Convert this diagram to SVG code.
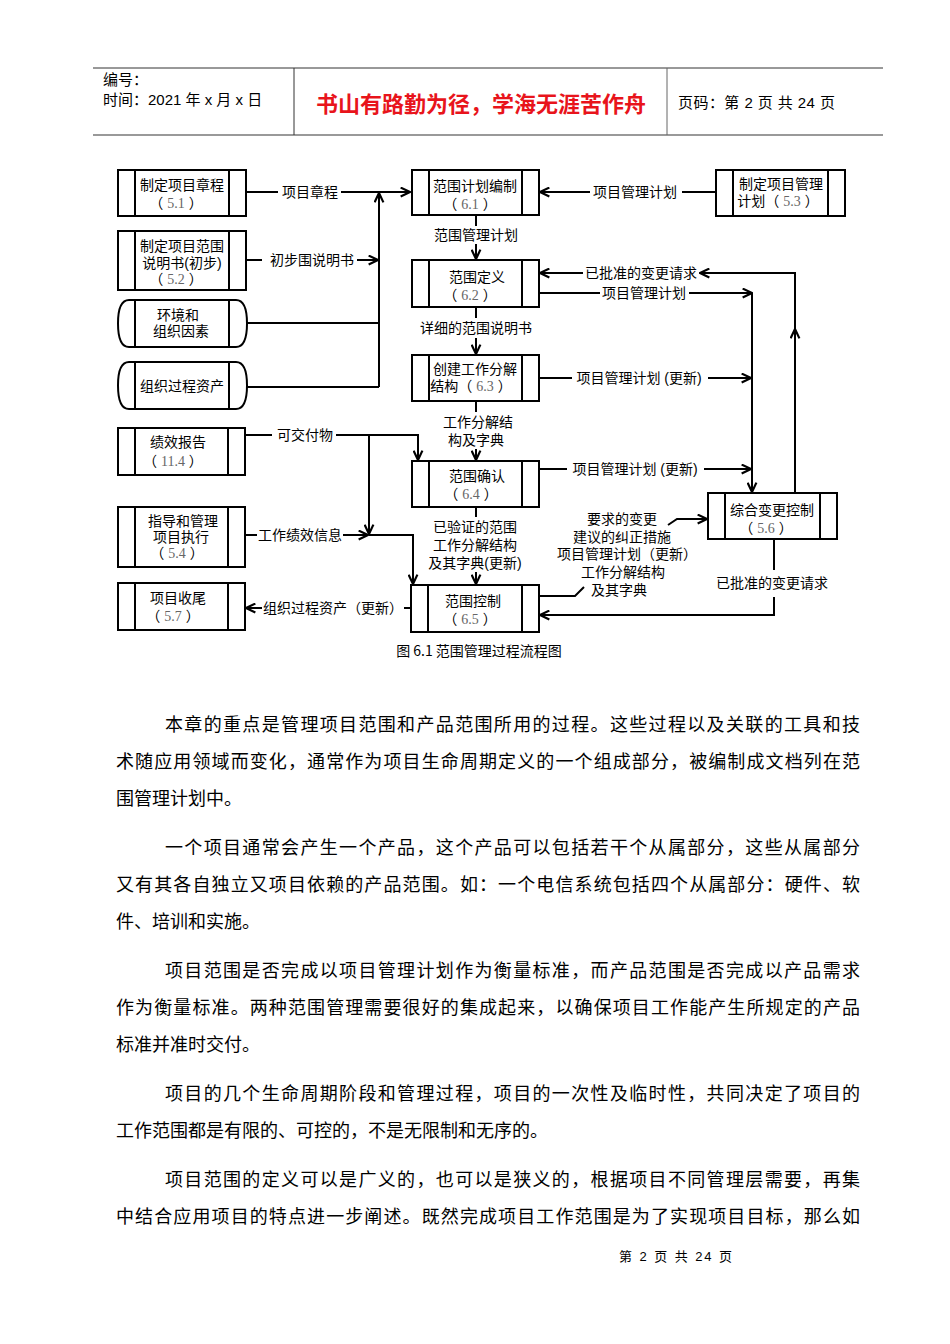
<svg xmlns="http://www.w3.org/2000/svg" width="950" height="1344" viewBox="0 0 950 1344">
<style>
.t{font-family:"Liberation Sans","Noto Sans CJK SC",sans-serif;font-size:14px;fill:#000;text-anchor:middle}
.n{font-family:"Liberation Serif",serif;fill:#666}
.b{fill:#fff;stroke:#000;stroke-width:2}
.il{stroke:#000;stroke-width:2}
.c{fill:none;stroke:#000;stroke-width:2}
.ca{fill:none;stroke:#000;stroke-width:2;marker-end:url(#ah)}
.h{font-family:"Liberation Sans","Noto Sans CJK SC",sans-serif;font-size:15px;fill:#000}
.p{font-family:"Liberation Serif","Noto Sans CJK SC",serif;font-size:18px;fill:#000}
</style>
<defs>
<marker id="ah" viewBox="0 0 10 10" refX="9.5" refY="5" markerWidth="11" markerHeight="11" markerUnits="userSpaceOnUse" orient="auto">
<path d="M1,1 L9.5,5 L1,9" fill="none" stroke="#000" stroke-width="2"/>
</marker>
</defs>
<rect width="950" height="1344" fill="#fff"/>

<g id="header">
<line x1="93" y1="68" x2="883" y2="68" stroke="#333" stroke-width="1"/>
<line x1="93" y1="135" x2="883" y2="135" stroke="#999" stroke-width="2"/>
<line x1="294" y1="68" x2="294" y2="135" stroke="#333" stroke-width="1"/>
<line x1="667" y1="68" x2="667" y2="135" stroke="#666" stroke-width="1"/>
<text class="h" x="103" y="85">编号：</text>
<text class="h" x="103" y="105">时间：2021 年 x 月 x 日</text>
<text x="481" y="112" text-anchor="middle" font-family="Noto Sans CJK SC, sans-serif" font-size="22" font-weight="bold" fill="#e8141b">书山有路勤为径，学海无涯苦作舟</text>
<text class="h" x="678" y="108" textLength="157" lengthAdjust="spacing">页码：第 2 页 共 24 页</text>
</g>

<g id="connectors">
<line class="c" x1="246" y1="192" x2="278" y2="192"/>
<line class="ca" x1="341" y1="192" x2="410" y2="192"/>
<text class="t" x="310" y="197">项目章程</text>
<line class="c" x1="246" y1="323" x2="379" y2="323"/>
<line class="c" x1="246" y1="387" x2="379" y2="387"/>
<line class="ca" x1="379" y1="387" x2="379" y2="193"/>
<line class="c" x1="246" y1="260" x2="262" y2="260"/>
<line class="ca" x1="357" y1="260" x2="378" y2="260"/>
<text class="t" x="312" y="265">初步围说明书</text>
<line class="c" x1="716" y1="192" x2="682" y2="192"/>
<line class="ca" x1="590" y1="192" x2="540" y2="192"/>
<text class="t" x="635" y="197">项目管理计划</text>
<line class="c" x1="476" y1="215" x2="476" y2="226"/>
<text class="t" x="476" y="240">范围管理计划</text>
<line class="ca" x1="476" y1="244" x2="476" y2="259"/>
<line class="ca" x1="795" y1="493" x2="795" y2="329"/>
<polyline class="ca" points="795,333 795,273 700,273"/>
<line class="ca" x1="583" y1="273" x2="540" y2="273"/>
<text class="t" x="641" y="278">已批准的变更请求</text>
<line class="c" x1="539" y1="293" x2="600" y2="293"/>
<line class="ca" x1="689" y1="293" x2="752" y2="293"/>
<text class="t" x="644" y="298">项目管理计划</text>
<line class="ca" x1="752" y1="293" x2="752" y2="492"/>
<line class="c" x1="476" y1="308" x2="476" y2="318"/>
<text class="t" x="476" y="333">详细的范围说明书</text>
<line class="ca" x1="476" y1="338" x2="476" y2="354"/>
<line class="c" x1="539" y1="378" x2="572" y2="378"/>
<line class="ca" x1="708" y1="378" x2="751" y2="378"/>
<text class="t" x="639" y="383">项目管理计划 (更新)</text>
<line class="c" x1="476" y1="401" x2="476" y2="412"/>
<text class="t" x="478" y="427">工作分解结<tspan x="476" dy="18">构及字典</tspan></text>
<line class="ca" x1="476" y1="449" x2="476" y2="460"/>
<line class="c" x1="539" y1="469" x2="567" y2="469"/>
<line class="ca" x1="704" y1="469" x2="751" y2="469"/>
<text class="t" x="635" y="474">项目管理计划 (更新)</text>
<line class="c" x1="476" y1="507" x2="476" y2="517"/>
<text class="t" x="475" y="532">已验证的范围<tspan x="475" dy="18">工作分解结构</tspan><tspan x="475" dy="18">及其字典(更新)</tspan></text>
<line class="ca" x1="476" y1="572" x2="476" y2="584"/>
<line class="c" x1="774" y1="539" x2="774" y2="570"/>
<text class="t" x="772" y="588">已批准的变更请求</text>
<polyline class="ca" points="774,597 774,615 540,615"/>
<polyline class="c" points="539,596 575,596 584,587"/>
<polyline class="ca" points="668,525 677,519 707,519"/>
<text class="t" x="622" y="524">要求的变更<tspan x="622" dy="18">建议的纠正措施</tspan><tspan x="627" dy="17">项目管理计划（更新）</tspan><tspan x="623" dy="18">工作分解结构</tspan><tspan x="619" dy="18">及其字典</tspan></text>
<line class="c" x1="245" y1="435" x2="272" y2="435"/>
<text class="t" x="305" y="440">可交付物</text>
<polyline class="ca" points="336,435 418,435 418,460"/>
<line class="ca" x1="369" y1="435" x2="369" y2="534"/>
<line class="c" x1="245" y1="535" x2="257" y2="535"/>
<text class="t" x="300" y="540">工作绩效信息</text>
<line class="ca" x1="343" y1="535" x2="368" y2="535"/>
<polyline class="ca" points="369,535 413,535 413,584"/>
<line class="c" x1="411" y1="608" x2="404" y2="608"/>
<text class="t" x="333" y="613">组织过程资产（更新）</text>
<line class="ca" x1="262" y1="608" x2="246" y2="608"/>
</g>

<g id="n51">
<rect class="b" x="118" y="170" width="128" height="46"/>
<line class="il" x1="135" y1="170" x2="135" y2="216"/><line class="il" x1="229" y1="170" x2="229" y2="216"/>
<text class="t" x="182" y="190">制定项目章程<tspan x="176" dy="18">（ <tspan class="n">5.1</tspan> ）</tspan></text>
</g>
<g id="n52">
<rect class="b" x="118" y="231" width="128" height="59"/>
<line class="il" x1="135" y1="231" x2="135" y2="290"/><line class="il" x1="229" y1="231" x2="229" y2="290"/>
<text class="t" x="182" y="251">制定项目范围<tspan x="182" dy="17">说明书(初步)</tspan><tspan x="176" dy="16">（ <tspan class="n">5.2</tspan> ）</tspan></text>
</g>
<g id="nenv">
<path class="b" d="M129,300 H236 Q247,300 247,323.5 Q247,347 236,347 H129 Q118,347 118,323.5 Q118,300 129,300 Z"/>
<line class="il" x1="135" y1="300" x2="135" y2="347"/><line class="il" x1="229" y1="300" x2="229" y2="347"/>
<text class="t" x="178" y="320">环境和<tspan x="181" dy="16">组织因素</tspan></text>
</g>
<g id="nopa">
<path class="b" d="M129,362 H236 Q247,362 247,385.5 Q247,409 236,409 H129 Q118,409 118,385.5 Q118,362 129,362 Z"/>
<line class="il" x1="135" y1="362" x2="135" y2="409"/><line class="il" x1="229" y1="362" x2="229" y2="409"/>
<text class="t" x="182" y="391">组织过程资产</text>
</g>
<g id="n61">
<rect class="b" x="412" y="170" width="127" height="45"/>
<line class="il" x1="429" y1="170" x2="429" y2="215"/><line class="il" x1="522" y1="170" x2="522" y2="215"/>
<text class="t" x="475" y="191">范围计划编制<tspan x="470" dy="18">（ <tspan class="n">6.1</tspan> ）</tspan></text>
</g>
<g id="n53">
<rect class="b" x="716" y="170" width="129" height="46"/>
<line class="il" x1="733" y1="170" x2="733" y2="216"/><line class="il" x1="828" y1="170" x2="828" y2="216"/>
<text class="t" x="781" y="189">制定项目管理<tspan x="778" dy="17">计划（ <tspan class="n">5.3</tspan> ）</tspan></text>
</g>
<g id="n62">
<rect class="b" x="412" y="260" width="127" height="47"/>
<line class="il" x1="429" y1="260" x2="429" y2="307"/><line class="il" x1="522" y1="260" x2="522" y2="307"/>
<text class="t" x="477" y="282">范围定义<tspan x="470" dy="18">（ <tspan class="n">6.2</tspan> ）</tspan></text>
</g>
<g id="n63">
<rect class="b" x="412" y="355" width="127" height="46"/>
<line class="il" x1="429" y1="355" x2="429" y2="401"/><line class="il" x1="522" y1="355" x2="522" y2="401"/>
<text class="t" x="475" y="374">创建工作分解<tspan x="471" dy="17">结构（ <tspan class="n">6.3</tspan> ）</tspan></text>
</g>
<g id="n64">
<rect class="b" x="412" y="461" width="127" height="46"/>
<line class="il" x1="429" y1="461" x2="429" y2="507"/><line class="il" x1="522" y1="461" x2="522" y2="507"/>
<text class="t" x="477" y="481">范围确认<tspan x="471" dy="18">（ <tspan class="n">6.4</tspan> ）</tspan></text>
</g>
<g id="n65">
<rect class="b" x="411" y="585" width="128" height="47"/>
<line class="il" x1="428" y1="585" x2="428" y2="632"/><line class="il" x1="522" y1="585" x2="522" y2="632"/>
<text class="t" x="473" y="606">范围控制<tspan x="470" dy="18">（ <tspan class="n">6.5</tspan> ）</tspan></text>
</g>
<g id="n56">
<rect class="b" x="708" y="493" width="129" height="46"/>
<line class="il" x1="725" y1="493" x2="725" y2="539"/><line class="il" x1="820" y1="493" x2="820" y2="539"/>
<text class="t" x="772" y="515">综合变更控制<tspan x="766" dy="18">（ <tspan class="n">5.6</tspan> ）</tspan></text>
</g>
<g id="n114">
<rect class="b" x="118" y="428" width="127" height="47"/>
<line class="il" x1="135" y1="428" x2="135" y2="475"/><line class="il" x1="228" y1="428" x2="228" y2="475"/>
<text class="t" x="178" y="447">绩效报告<tspan x="173" dy="19">（ <tspan class="n">11.4</tspan> ）</tspan></text>
</g>
<g id="n54">
<rect class="b" x="118" y="507" width="127" height="60"/>
<line class="il" x1="135" y1="507" x2="135" y2="567"/><line class="il" x1="228" y1="507" x2="228" y2="567"/>
<text class="t" x="183" y="526">指导和管理<tspan x="181" dy="16">项目执行</tspan><tspan x="177" dy="16">（ <tspan class="n">5.4</tspan> ）</tspan></text>
</g>
<g id="n57">
<rect class="b" x="118" y="583" width="127" height="47"/>
<line class="il" x1="135" y1="583" x2="135" y2="630"/><line class="il" x1="228" y1="583" x2="228" y2="630"/>
<text class="t" x="178" y="603">项目收尾<tspan x="173" dy="18">（ <tspan class="n">5.7</tspan> ）</tspan></text>
</g>

<text x="479" y="656" text-anchor="middle" font-family="Noto Sans CJK SC, sans-serif" font-size="14" fill="#000">图 6.1  范围管理过程流程图</text>

<g id="body">
<text class="p" x="165" y="731" textLength="695" lengthAdjust="spacing">本章的重点是管理项目范围和产品范围所用的过程。这些过程以及关联的工具和技</text>
<text class="p" x="116" y="768" textLength="744" lengthAdjust="spacing">术随应用领域而变化，通常作为项目生命周期定义的一个组成部分，被编制成文档列在范</text>
<text class="p" x="116" y="805">围管理计划中。</text>
<text class="p" x="165" y="854" textLength="695" lengthAdjust="spacing">一个项目通常会产生一个产品，这个产品可以包括若干个从属部分，这些从属部分</text>
<text class="p" x="116" y="891" textLength="744" lengthAdjust="spacing">又有其各自独立又项目依赖的产品范围。如：一个电信系统包括四个从属部分：硬件、软</text>
<text class="p" x="116" y="928">件、培训和实施。</text>
<text class="p" x="165" y="977" textLength="695" lengthAdjust="spacing">项目范围是否完成以项目管理计划作为衡量标准，而产品范围是否完成以产品需求</text>
<text class="p" x="116" y="1014" textLength="744" lengthAdjust="spacing">作为衡量标准。两种范围管理需要很好的集成起来，以确保项目工作能产生所规定的产品</text>
<text class="p" x="116" y="1051">标准并准时交付。</text>
<text class="p" x="165" y="1100" textLength="695" lengthAdjust="spacing">项目的几个生命周期阶段和管理过程，项目的一次性及临时性，共同决定了项目的</text>
<text class="p" x="116" y="1137">工作范围都是有限的、可控的，不是无限制和无序的。</text>
<text class="p" x="165" y="1186" textLength="695" lengthAdjust="spacing">项目范围的定义可以是广义的，也可以是狭义的，根据项目不同管理层需要，再集</text>
<text class="p" x="116" y="1223" textLength="744" lengthAdjust="spacing">中结合应用项目的特点进一步阐述。既然完成项目工作范围是为了实现项目目标，那么如</text>
</g>
<text x="619" y="1261" font-family="Liberation Sans, Noto Sans CJK SC, sans-serif" font-size="13" fill="#000" textLength="113" lengthAdjust="spacing">第 2 页 共 24 页</text>
</svg>
